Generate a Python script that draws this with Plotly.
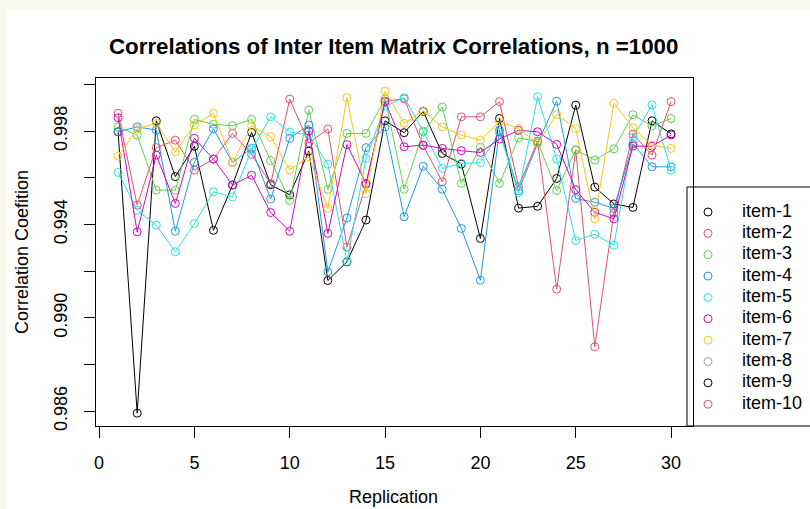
import plotly.graph_objects as go

W, H = 810, 509

# ---------------- data ----------------
replication = list(range(1, 31))

items = ["item-1", "item-2", "item-3", "item-4", "item-5",
         "item-6", "item-7", "item-8", "item-9", "item-10"]
colors = ["#000000", "#DF536B", "#61D04F", "#2297E6", "#28E2E5",
          "#CD0BBC", "#F5C710", "#9E9E9E", "#000000", "#DF536B"]

item_1 = [0.99797, 0.98592, 0.99844, 0.99605, 0.99735, 0.99375, 0.99569, 0.99794, 0.99570, 0.99527,
          0.99714, 0.99160, 0.99240, 0.99419, 0.99844, 0.99793, 0.99884, 0.99704, 0.99659, 0.99340,
          0.99854, 0.99470, 0.99478, 0.99597, 0.99911, 0.99560, 0.99488, 0.99473, 0.99844, 0.99788]
item_2 = [0.99876, 0.99483, 0.99729, 0.99761, 0.99633, 0.99680, 0.99790, 0.99700, 0.99575, 0.99937,
          0.99750, 0.99809, 0.99303, 0.99572, 0.99928, 0.99938, 0.99738, 0.99583, 0.99861, 0.99861,
          0.99926, 0.99562, 0.99757, 0.99123, 0.99719, 0.98876, 0.99449, 0.99787, 0.99697, 0.99926]
item_3 = [0.99818, 0.99783, 0.99547, 0.99547, 0.99850, 0.99829, 0.99823, 0.99850, 0.99674, 0.99503,
          0.99890, 0.99550, 0.99790, 0.99790, 0.99938, 0.99551, 0.99796, 0.99903, 0.99576, 0.99731,
          0.99576, 0.99771, 0.99754, 0.99545, 0.99719, 0.99676, 0.99724, 0.99870, 0.99822, 0.99854]
item_4 = [0.99797, 0.99818, 0.99804, 0.99371, 0.99666, 0.99809, 0.99666, 0.99726, 0.99509, 0.99769,
          0.99826, 0.99197, 0.99428, 0.99729, 0.99818, 0.99433, 0.99649, 0.99551, 0.99383, 0.99161,
          0.99804, 0.99545, 0.99747, 0.99928, 0.99511, 0.99495, 0.99469, 0.99745, 0.99647, 0.99647]
item_5 = [0.99623, 0.99461, 0.99397, 0.99283, 0.99404, 0.99540, 0.99518, 0.99719, 0.99861, 0.99796,
          0.99783, 0.99658, 0.99242, 0.99683, 0.99906, 0.99943, 0.99800, 0.99640, 0.99662, 0.99665,
          0.99794, 0.99536, 0.99947, 0.99680, 0.99331, 0.99358, 0.99311, 0.99773, 0.99912, 0.99632]
item_6 = [0.99857, 0.99368, 0.99697, 0.99490, 0.99769, 0.99680, 0.99569, 0.99611, 0.99451, 0.99371,
          0.99800, 0.99362, 0.99742, 0.99576, 0.99926, 0.99733, 0.99740, 0.99726, 0.99716, 0.99708,
          0.99766, 0.99803, 0.99797, 0.99743, 0.99549, 0.99452, 0.99424, 0.99736, 0.99735, 0.99783]
item_7 = [0.99693, 0.99809, 0.99833, 0.99711, 0.99826, 0.99876, 0.99666, 0.99823, 0.99776, 0.99634,
          0.99690, 0.99469, 0.99943, 0.99532, 0.99971, 0.99833, 0.99886, 0.99818, 0.99783, 0.99761,
          0.99840, 0.99811, 0.99747, 0.99871, 0.99811, 0.99424, 0.99919, 0.99814, 0.99740, 0.99726]

plotted = [item_1, item_2, item_3, item_4, item_5, item_6, item_7]

x_tick_vals = [0, 5, 10, 15, 20, 25, 30]
y_tick_vals = [0.986, 0.988, 0.990, 0.992, 0.994, 0.996, 0.998, 1.000]
y_tick_text = ["0.986", "", "0.990", "", "0.994", "", "0.998", ""]

title = "Correlations of Inter Item Matrix Correlations, n =1000"
x_title = "Replication"
y_title = "Correlation Coefition"

# ---------------- figure ----------------
FONT = "Liberation Sans, Arial, sans-serif"

def px_x(p):
    return p / W

def px_y(p):
    return 1 - p / H

fig = go.Figure()

for vals, name, col in zip(plotted, items, colors):
    fig.add_trace(go.Scatter(
        x=replication, y=vals, name=name, mode="lines+markers",
        line=dict(color=col, width=1),
        marker=dict(symbol="circle-open", size=8, color=col, line=dict(width=1, color=col)),
        showlegend=False, xaxis="x", yaxis="y"))

# legend keys drawn on an auxiliary axis (one row per item)
rows = list(range(len(items)))
fig.add_trace(go.Scatter(
    x=[0] * len(items), y=rows, mode="markers",
    marker=dict(symbol="circle-open", size=8, color=colors, line=dict(width=1, color=colors)),
    showlegend=False, xaxis="x2", yaxis="y2", hoverinfo="skip"))
fig.add_trace(go.Scatter(
    x=[1] * len(items), y=rows, mode="text", text=items, textposition="middle right",
    textfont=dict(family=FONT, size=18, color="#000000"),
    showlegend=False, xaxis="x2", yaxis="y2", hoverinfo="skip"))

axis_common = dict(showgrid=False, zeroline=False, showline=True, mirror=True,
                   linecolor="#000000", linewidth=1, ticks="outside", ticklen=11,
                   tickwidth=1, tickcolor="#000000",
                   tickfont=dict(family=FONT, size=18, color="#000000"))

fig.update_layout(
    width=W, height=H,
    margin=dict(l=0, r=0, t=0, b=0, autoexpand=False),
    paper_bgcolor="#FFFFFF", plot_bgcolor="rgba(0,0,0,0)",
    xaxis=dict(domain=[px_x(96), px_x(693.2)], range=[-0.16, 31.16],
               tickmode="array", tickvals=x_tick_vals, anchor="y",
               ticklabelstandoff=9, **axis_common),
    yaxis=dict(domain=[px_y(426), px_y(78.3)], range=[0.98537, 1.00026],
               tickmode="array", tickvals=y_tick_vals, ticktext=y_tick_text,
               tickangle=-90, anchor="x", ticklabelstandoff=10, **axis_common),
    xaxis2=dict(domain=[px_x(687), 1.0], range=[-0.618, 3.0], visible=False, anchor="y2"),
    yaxis2=dict(domain=[px_y(426), px_y(187)], range=[10.02, -1.171], visible=False, anchor="x2"),
    showlegend=False,
)

shapes = [
    # light page border strips
    dict(type="rect", xref="paper", yref="paper", x0=0, x1=px_x(7), y0=0, y1=1,
         fillcolor="#F9F9F0", line=dict(width=0), layer="below"),
    dict(type="rect", xref="paper", yref="paper", x0=0, x1=1, y0=px_y(10), y1=1,
         fillcolor="#F9F9F0", line=dict(width=0), layer="below"),
    # legend box
    dict(type="rect", xref="paper", yref="paper", x0=px_x(687), x1=px_x(830),
         y0=px_y(426), y1=px_y(187), fillcolor="#FFFFFF",
         line=dict(color="#000000", width=1), layer="below"),
]
fig.update_layout(shapes=shapes)

annotations = [
    dict(text="<b>" + title + "</b>", xref="paper", yref="paper", x=px_x(393), y=px_y(46),
         xanchor="center", yanchor="middle", showarrow=False,
         font=dict(family=FONT, size=22.3, color="#000000")),
    dict(text=x_title, xref="paper", yref="paper", x=px_x(393), y=px_y(497),
         xanchor="center", yanchor="middle", showarrow=False,
         font=dict(family=FONT, size=18, color="#000000")),
    dict(text=y_title, xref="paper", yref="paper", x=px_x(22), y=px_y(252),
         xanchor="center", yanchor="middle", showarrow=False, textangle=-90,
         font=dict(family=FONT, size=18, color="#000000")),
]
fig.update_layout(annotations=annotations)

fig.write_html("out.html", config={"displayModeBar": False},
               post_script="document.body.style.margin='0';document.body.style.padding='0';")
